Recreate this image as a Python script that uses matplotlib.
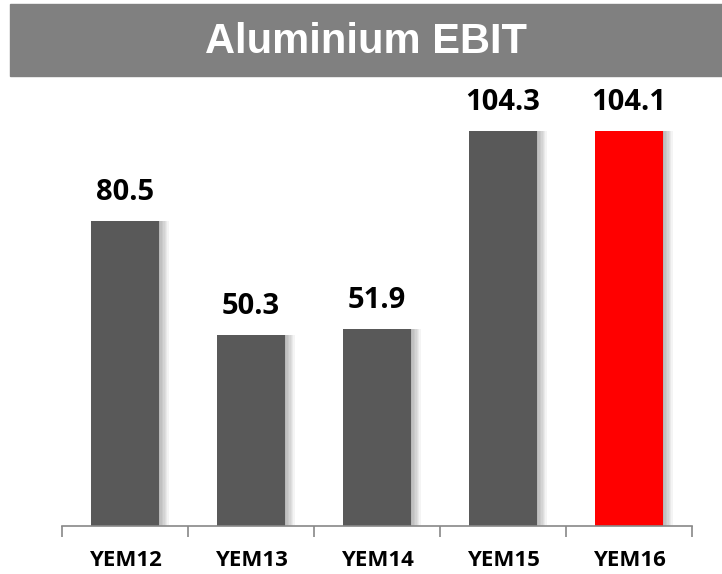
import matplotlib.pyplot as plt
from matplotlib.patches import Rectangle

years = ["YEM12", "YEM13", "YEM14", "YEM15", "YEM16"]
ebit = [80.5, 50.3, 51.9, 104.3, 104.1]
bar_colors = ["#595959", "#595959", "#595959", "#595959", "#ff0000"]

fig = plt.figure(figsize=(7.22, 5.74), dpi=100)

# grey title band
fig.patches.append(Rectangle((10 / 722, 1 - 76 / 574), 1, 72 / 574,
                             transform=fig.transFigure, color="#808080", zorder=0))
fig.text(366 / 722, 1 - 42 / 574, "Aluminium EBIT", color="white", fontsize=30,
         fontweight="bold", family="Liberation Sans", ha="center", va="center")

ax = fig.add_axes([62 / 722, 48 / 574, 630 / 722, 436 / 574])
x = list(range(len(years)))
width = 0.54

# soft shadow on the right of each bar
for k in range(1, 8):
    ax.bar([i + k * 0.011 for i in x], ebit, width=width, color="black",
           alpha=0.045, zorder=1, linewidth=0)
ax.bar(x, ebit, width=width, color=bar_colors, zorder=2)

for i, v in enumerate(ebit):
    ax.annotate(f"{v:.1f}", (i, v), xytext=(0, 10), textcoords="offset points",
                ha="center", va="bottom", fontsize=21, fontweight="bold",
                family="Open Sans")

ax.set_xlim(-0.5, 4.5)
ax.set_ylim(0, 115)
ax.set_xticks(x)
ax.set_xticklabels(years, fontsize=16, fontweight="bold", family="Open Sans")
ax.set_xticks([i - 0.5 for i in range(len(years) + 1)], minor=True)
ax.tick_params(axis="x", which="major", length=0, pad=17)
ax.tick_params(axis="x", which="minor", length=8, color="#888888", width=1.2)
ax.set_yticks([])
for s in ["top", "right", "left"]:
    ax.spines[s].set_visible(False)
ax.spines["bottom"].set_color("#888888")
ax.spines["bottom"].set_linewidth(1.2)

fig.savefig("out.png", dpi=100)
